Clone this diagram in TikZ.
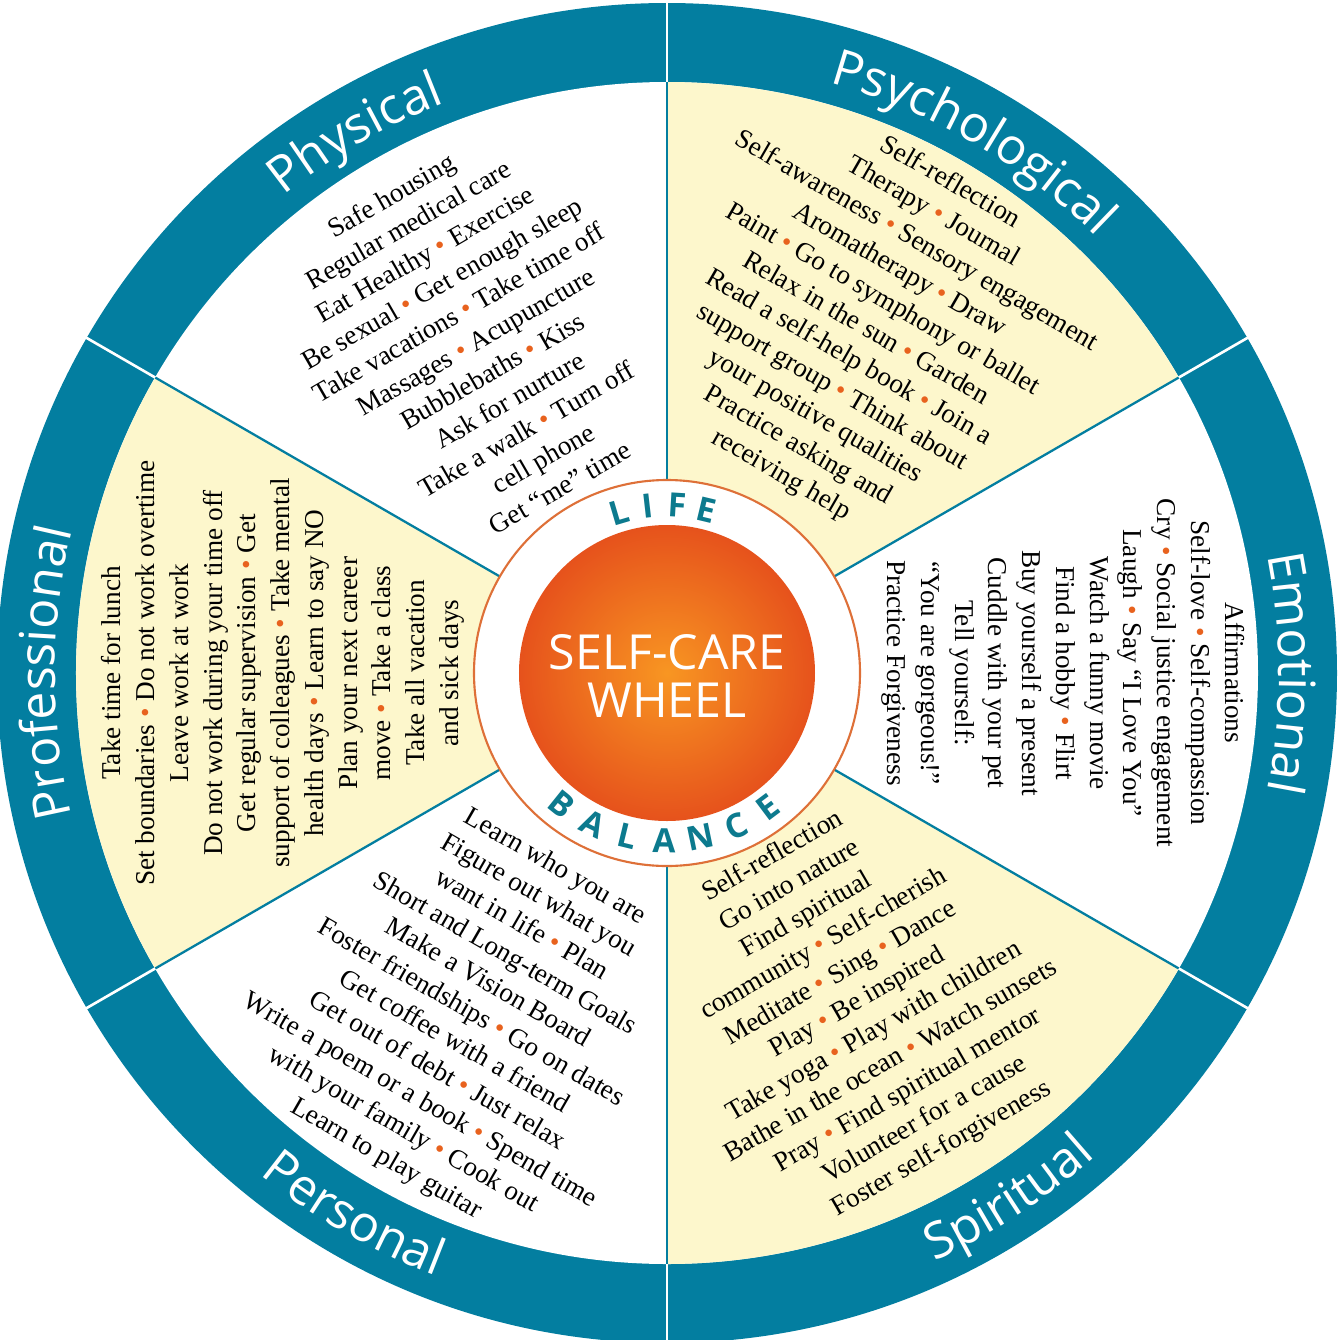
\documentclass[tikz,border=0pt]{standalone}
\usepackage{fontspec}
\setmainfont{Liberation Serif}
\newfontfamily\headfont{Open Sans}
\usetikzlibrary{decorations.text}

\definecolor{ringblue}{RGB}{3,126,160}
\definecolor{cream}{RGB}{253,247,204}
\definecolor{dotorange}{RGB}{232,98,30}
\definecolor{sunlight}{RGB}{248,150,34}
\definecolor{sundark}{RGB}{230,82,28}
\definecolor{rimorange}{RGB}{222,112,56}
\definecolor{lifeteal}{RGB}{12,122,142}
\newcommand{\dt}{\unskip\ \textcolor{dotorange}{\textbullet}\ \ignorespaces}

\begin{document}
\begin{tikzpicture}[x=0.2mm,y=0.2mm,
  items/.style={align=center,inner sep=0pt,font=\fontsize{15.5}{19.2}\selectfont},
  divider/.style={ringblue,line width=1.3pt},
  gap/.style={white,line width=1.5pt},
  ringlabel/.style={decorate,decoration={text along path,text align=center,text color=white,
    text={|\headfont\fontsize{28.5}{30}\selectfont|#1}}},
  lbl/.style={inner sep=0pt,text=lifeteal,font=\headfont\bfseries\fontsize{19}{19}\selectfont},
  title/.style={align=center,inner sep=0pt,text=white,font=\headfont\fontsize{27.5}{27.5}\selectfont}]
\useasboundingbox (-667,-666) rectangle (677,673);

\fill[ringblue] (0,0) circle (670);
\fill[white] (0,0) circle (591);
\foreach \a in {30,150,270}
  \fill[cream] (0,0) -- (\a:591) arc[start angle=\a,end angle=\a+60,radius=591] -- cycle;
\foreach \a in {30,90,...,330} {
  \draw[divider] (\a:150) -- (\a:591);
  \draw[gap] (\a:591) -- (\a:675);
}
\filldraw[fill=white,draw=rimorange,line width=1.2pt] (0,0) circle (193);
\shade[inner color=sunlight,outer color=sundark] (0,0) circle (148);

\path[ringlabel=Physical] (150:612) arc[start angle=150,end angle=90,radius=612];
\path[ringlabel=Psychological] (90:612) arc[start angle=90,end angle=30,radius=612];
\path[ringlabel=Emotional] (30:612) arc[start angle=30,end angle=-30,radius=612];
\path[ringlabel=Professional] (210:612) arc[start angle=210,end angle=150,radius=612];
\path[ringlabel=Spiritual] (-87:646) arc[start angle=-87,end angle=-27,radius=646];
\path[ringlabel=Personal] (-150:646) arc[start angle=-150,end angle=-90,radius=646];

\node[title] at (0,-3) (title) {SELF-CARE\\WHEEL};
\foreach \ch [count=\i] in {L,I,F,E}
  \node[lbl,rotate={16.5-10*(\i-1)}] at ({106.5-10*(\i-1)}:168) (life\i) {\ch};
\foreach \ch [count=\i] in {B,A,L,A,N,C,E}
  \node[lbl,rotate={-38.8+12.6*(\i-1)}] at ({-128.8+12.6*(\i-1)}:168) (balance\i) {\ch};

\node[items,rotate=30] at (120:383) (physical) {Safe housing\\
  Regular medical care\\
  Eat Healthy \dt Exercise\\
  Be sexual \dt Get enough sleep\\
  Take vacations \dt Take time off\\
  Massages \dt Acupuncture\\
  Bubblebaths \dt Kiss\\
  Ask for nurture\\
  Take a walk \dt Turn off\\
  cell phone\\
  Get “me” time};
\node[items,rotate=-30] at (60:397) (psychological) {Self-reflection\\
  Therapy \dt Journal\\
  Self-awareness \dt Sensory engagement\\
  Aromatherapy \dt Draw\\
  Paint \dt Go to symphony or ballet\\
  Relax in the sun \dt Garden\\
  Read a self-help book \dt Join a\\
  support group \dt Think about\\
  your positive qualities\\
  Practice asking and\\
  receiving help};
\node[items,rotate=-90] at (0:396) (emotional) {Affirmations\\
  Self-love \dt Self-compassion\\
  Cry \dt Social justice engagement\\
  Laugh \dt Say “I Love You”\\
  Watch a funny movie\\
  Find a hobby \dt Flirt\\
  Buy yourself a present\\
  Cuddle with your pet\\
  Tell yourself:\\
  “You are gorgeous!”\\
  Practice Forgiveness};
\node[items,rotate=30] at (-60:381) (spiritual) {Self-reflection\\
  Go into nature\\
  Find spiritual\\
  community \dt Self-cherish\\
  Meditate \dt Sing \dt Dance\\
  Play \dt Be inspired\\
  Take yoga \dt Play with children\\
  Bathe in the ocean \dt Watch sunsets\\
  Pray \dt Find spiritual mentor\\
  Volunteer for a cause\\
  Foster self-forgiveness};
\node[items,rotate=-30] at (-120:393) (personal) {Learn who you are\\
  Figure out what you\\
  want in life \dt Plan\\
  Short and Long-term Goals\\
  Make a Vision Board\\
  Foster friendships \dt Go on dates\\
  Get coffee with a friend\\
  Get out of debt \dt Just relax\\
  Write a poem or a book \dt Spend time\\
  with your family \dt Cook out\\
  Learn to play guitar};
\node[items,rotate=90] at (180:384) (professional) {Take time for lunch\\
  Set boundaries \dt Do not work overtime\\
  Leave work at work\\
  Do not work during your time off\\
  Get regular supervision \dt Get\\
  support of colleagues \dt Take mental\\
  health days \dt Learn to say NO\\
  Plan your next career\\
  move \dt Take a class\\
  Take all vacation\\
  and sick days};
\end{tikzpicture}
\end{document}
